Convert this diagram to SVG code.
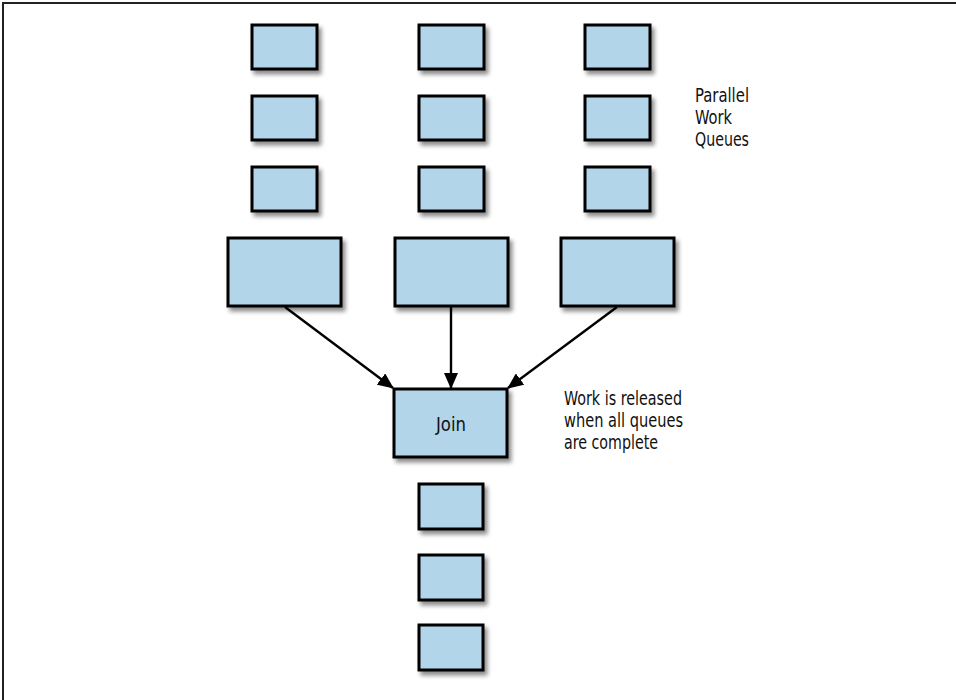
<svg xmlns="http://www.w3.org/2000/svg" width="956" height="700" viewBox="0 0 956 700">
<style>
.b{fill:#b2d5ea;stroke:#000;stroke-width:3;filter:url(#sh)}
.t{font-family:"DejaVu Sans Condensed","Liberation Sans",sans-serif;font-size:20px;fill:#111}
.c{stroke:#000;stroke-width:2.4;fill:none;marker-end:url(#ah)}
</style>
<defs>
<filter id="sh" x="-20%" y="-20%" width="150%" height="160%">
<feDropShadow dx="3" dy="4" stdDeviation="2" flood-color="#000" flood-opacity="0.45"/>
</filter>
<marker id="ah" viewBox="0 0 16 14" refX="15" refY="7" markerWidth="16" markerHeight="14" markerUnits="userSpaceOnUse" orient="auto">
<path d="M0,0 L16,7 L0,14 z" fill="#000"/>
</marker>
</defs>
<rect width="956" height="700" fill="#fff"/>
<path d="M3,700 V3 H956" stroke="#222" stroke-width="2" fill="none"/>
<g id="q1a"><rect class="b" x="252" y="25" width="65" height="44"/></g>
<g id="q1b"><rect class="b" x="252" y="96" width="65" height="44"/></g>
<g id="q1c"><rect class="b" x="252" y="167" width="65" height="44"/></g>
<g id="q2a"><rect class="b" x="419" y="25" width="65" height="44"/></g>
<g id="q2b"><rect class="b" x="419" y="96" width="65" height="44"/></g>
<g id="q2c"><rect class="b" x="419" y="167" width="65" height="44"/></g>
<g id="q3a"><rect class="b" x="585" y="25" width="65" height="44"/></g>
<g id="q3b"><rect class="b" x="585" y="96" width="65" height="44"/></g>
<g id="q3c"><rect class="b" x="585" y="167" width="65" height="44"/></g>
<g id="w1"><rect class="b" x="228" y="238" width="113" height="68"/></g>
<g id="w2"><rect class="b" x="395" y="238" width="113" height="68"/></g>
<g id="w3"><rect class="b" x="561" y="238" width="113" height="68"/></g>
<g id="join"><rect class="b" x="394" y="389" width="113" height="68"/><text class="t" x="451" y="431" text-anchor="middle" textLength="30" lengthAdjust="spacingAndGlyphs">Join</text></g>
<g id="o1"><rect class="b" x="419" y="484" width="64" height="45"/></g>
<g id="o2"><rect class="b" x="419" y="555" width="64" height="45"/></g>
<g id="o3"><rect class="b" x="419" y="625" width="64" height="45"/></g>
<g id="connectors">
<line class="c" x1="285" y1="307" x2="393" y2="388"/>
<line class="c" x1="451" y1="307" x2="451" y2="388"/>
<line class="c" x1="617" y1="307" x2="508" y2="388"/>
</g>
<g id="label1">
<text class="t" x="695" y="102" textLength="54" lengthAdjust="spacingAndGlyphs">Parallel</text>
<text class="t" x="695" y="124" textLength="37" lengthAdjust="spacingAndGlyphs">Work</text>
<text class="t" x="695" y="146" textLength="54" lengthAdjust="spacingAndGlyphs">Queues</text>
</g>
<g id="label2">
<text class="t" x="564" y="405" textLength="118" lengthAdjust="spacingAndGlyphs">Work is released</text>
<text class="t" x="564" y="427" textLength="119" lengthAdjust="spacingAndGlyphs">when all queues</text>
<text class="t" x="564" y="449" textLength="94" lengthAdjust="spacingAndGlyphs">are complete</text>
</g>
</svg>
